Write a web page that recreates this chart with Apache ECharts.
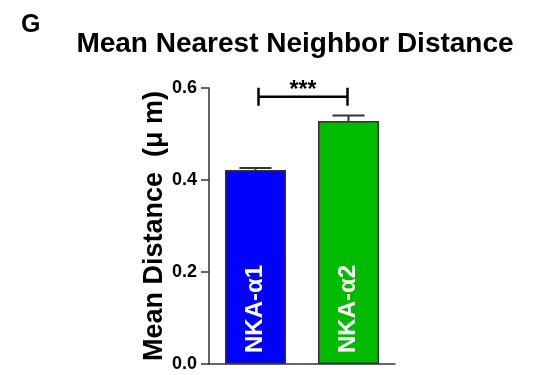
<!DOCTYPE html>
<html><head><meta charset="utf-8">
<script src="https://cdn.jsdelivr.net/npm/echarts@6/dist/echarts.min.js"></script>
<style>html,body{margin:0;padding:0;background:#fff}#c{width:548px;height:375px}</style>
</head><body><div id="c"></div>
<script>
const categories = ['NKA-\u03b11', 'NKA-\u03b12'];
const means = [0.422, 0.528];
const sems = [0.004, 0.012];
const barColors = ['#0000ff', '#00bb00'];
const yTicks = [0.0, 0.2, 0.4, 0.6];
const bracketY = 0.581;
const sigLabel = '***';

const chart = echarts.init(document.getElementById('c'));
const FONT = 'Liberation Sans, Arial, sans-serif';
chart.setOption({
  animation: false,
  backgroundColor: '#fff',
  title: {
    text: 'Mean Nearest Neighbor Distance',
    left: 290, top: 25, textAlign: 'center',
    textStyle: {fontFamily: FONT, fontWeight: 'bold', fontSize: 28, color: '#000'}
  },
  graphic: [{
    type: 'text', left: 21, top: 13,
    style: {text: 'G', fontFamily: FONT, fontWeight: 'bold', fontSize: 25, fill: '#000'}
  }],
  grid: {left: 209, right: 153, top: 88, bottom: 11},
  xAxis: {
    type: 'category', data: categories,
    axisLine: {lineStyle: {color: '#333', width: 1.5}},
    axisTick: {show: false}, axisLabel: {show: false}
  },
  yAxis: {
    type: 'value', min: 0, max: 0.6, interval: 0.2,
    name: 'Mean Distance  (\u03bc m)', nameLocation: 'middle', nameGap: 36,
    nameTextStyle: {fontFamily: FONT, fontWeight: 'bold', fontSize: 27, color: '#000'},
    axisLine: {show: true, lineStyle: {color: '#333', width: 1.5}},
    axisTick: {show: true, length: 8, lineStyle: {color: '#333', width: 1.5}},
    splitLine: {show: false},
    axisLabel: {
      fontFamily: FONT, fontWeight: 'bold', fontSize: 18, color: '#000', margin: 12,
      formatter: v => yTicks.some(t => Math.abs(t - v) < 1e-9) ? v.toFixed(1) : ''
    }
  },
  series: [{
    type: 'bar', barWidth: 61,
    data: means.map((v, i) => ({value: v, itemStyle: {color: barColors[i]}})),
    itemStyle: {borderColor: '#333', borderWidth: 1.5},
    label: {
      show: true, position: 'insideBottom', rotate: 90, align: 'left', verticalAlign: 'middle',
      distance: 11,
      formatter: p => p.name,
      fontFamily: FONT, fontWeight: 'bold', fontSize: 24, color: '#fff'
    }
  }, {
    type: 'custom',
    data: means.map((v, i) => [i, v, sems[i]]),
    renderItem: (params, api) => {
      const i = api.value(0), m = api.value(1), s = api.value(2);
      const p0 = api.coord([i, m]);
      const p1 = api.coord([i, m + s]);
      const hw = 16;
      const st = {stroke: '#333', lineWidth: 2, fill: null};
      return {type: 'group', children: [
        {type: 'line', shape: {x1: p0[0], y1: p0[1], x2: p1[0], y2: p1[1]}, style: st},
        {type: 'line', shape: {x1: p1[0] - hw, y1: p1[1], x2: p1[0] + hw, y2: p1[1]}, style: st}
      ]};
    },
    z: 1
  }, {
    type: 'custom',
    data: [[0, 1, bracketY]],
    renderItem: (params, api) => {
      const a = api.coord([api.value(0), api.value(2)]);
      const b = api.coord([api.value(1), api.value(2)]);
      const st = {stroke: '#000', lineWidth: 2.5, fill: null};
      const x1 = a[0] + 3, x2 = b[0] - 1, y = a[1];
      return {type: 'group', children: [
        {type: 'line', shape: {x1: x1, y1: y, x2: x2, y2: y}, style: st},
        {type: 'line', shape: {x1: x1, y1: y - 9, x2: x1, y2: y + 9}, style: st},
        {type: 'line', shape: {x1: x2, y1: y - 9, x2: x2, y2: y + 9}, style: st},
        {type: 'text', style: {text: sigLabel, x: (x1 + x2) / 2, y: y - 18, textAlign: 'center', textVerticalAlign: 'top',
          fontFamily: FONT, fontWeight: 'bold', fontSize: 23, fill: '#000'}}
      ]};
    }
  }]
});
</script></body></html>
